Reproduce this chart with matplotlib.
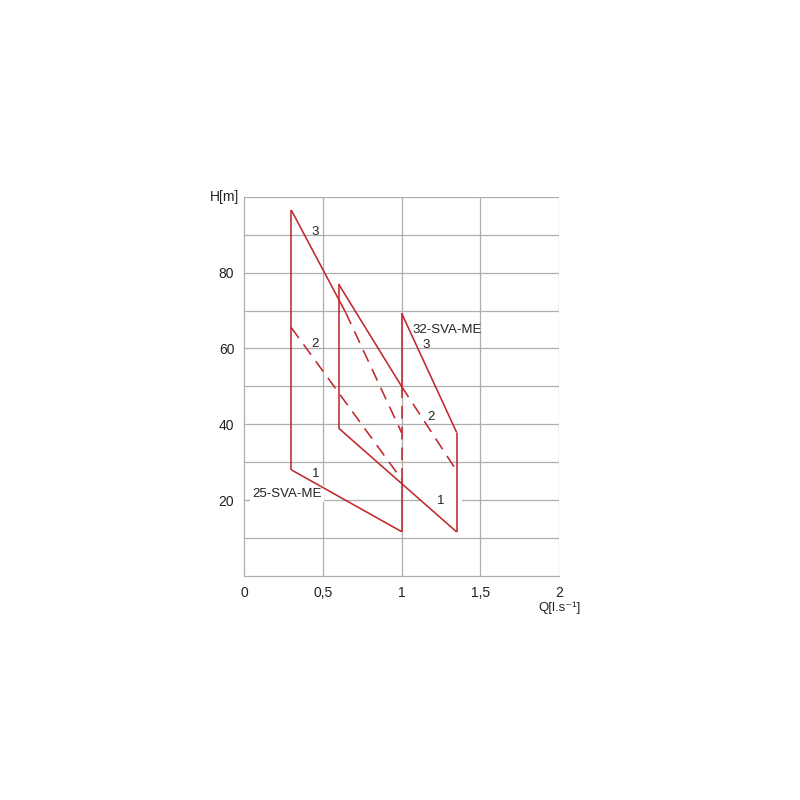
import matplotlib
matplotlib.use("Agg")
import matplotlib.pyplot as plt

plt.rcParams['font.family'] = ['Liberation Sans', 'DejaVu Sans']

RED = '#c0282d'
GRID = '#aeaeae'
TXT = '#222222'

# ---- data (Q in l/s, H in m) ----
# 25-SVA-ME
q25_left = [0.30, 0.30]; h25_left = [28.0, 96.5]
q25_c3_solid = [0.30, 0.645]; h25_c3_solid = [96.5, 69.5]
q25_c3_dash = [0.645, 1.00]; h25_c3_dash = [69.5, 37.8]
q25_c2 = [0.30, 1.00]; h25_c2 = [65.5, 25.5]
q25_c1 = [0.30, 1.00]; h25_c1 = [28.0, 11.7]
q25_right_solid = [1.00, 1.00]; h25_right_solid = [11.7, 25.0]
q_mid_dash = [1.00, 1.00]; h_mid_dash = [25.0, 50.0]
# 32-SVA-ME
q32_left = [0.60, 0.60]; h32_left = [39.0, 77.0]
q32_c2_solid = [0.60, 1.00]; h32_c2_solid = [77.0, 50.0]
q32_c2_dash = [1.00, 1.35]; h32_c2_dash = [50.0, 27.7]
q32_c1 = [0.60, 1.35]; h32_c1 = [39.0, 11.6]
q32_mid = [1.00, 1.00]; h32_mid = [50.0, 69.3]
q32_c3 = [1.00, 1.35]; h32_c3 = [69.3, 37.8]
q32_right = [1.35, 1.35]; h32_right = [11.6, 37.8]

solid_lines = [(q25_left, h25_left), (q25_c3_solid, h25_c3_solid), (q25_c1, h25_c1),
               (q25_right_solid, h25_right_solid), (q32_left, h32_left),
               (q32_c2_solid, h32_c2_solid), (q32_c1, h32_c1), (q32_mid, h32_mid),
               (q32_c3, h32_c3), (q32_right, h32_right)]
dashed_lines = [(q25_c3_dash, h25_c3_dash), (q25_c2, h25_c2), (q_mid_dash, h_mid_dash),
                (q32_c2_dash, h32_c2_dash)]

# (text, Q, H, white-box padding or None)
labels = [("3", 0.45, 90.6, None), ("2", 0.45, 61.1, None), ("1", 0.457, 26.9, None),
          ("25-SVA-ME", 0.273, 21.7, 1.5), ("32-SVA-ME", 1.289, 65.0, None),
          ("3", 1.156, 60.8, None), ("2", 1.187, 42.0, None), ("1", 1.251, 19.8, 12)]

x_ticks = [0, 0.5, 1, 1.5, 2]
x_tick_labels = ["0", "0,5", "1", "1,5", "2"]
y_ticks = [20, 40, 60, 80]
y_tick_labels = ["20", "40", "60", "80"]

fig = plt.figure(figsize=(8, 8), dpi=100)
ax = fig.add_axes([0.305, 0.28, 0.394, 0.474])
ax.set_xlim(0, 2)
ax.set_ylim(0, 100)

for h in range(10, 101, 10):
    ax.axhline(h, color=GRID, lw=0.9, zorder=1)
for q in [0.5, 1.0, 1.5, 2.0]:
    ax.axvline(q, color=GRID, lw=0.9, zorder=1)

for q, h in solid_lines:
    ax.plot(q, h, color=RED, lw=1.15, solid_capstyle='butt', zorder=3)
for q, h in dashed_lines:
    ax.plot(q, h, color=RED, lw=1.15, dashes=(8, 5), zorder=3)

for t, q, h, pad in labels:
    kw = {}
    if pad is not None:
        kw['bbox'] = dict(facecolor='white', edgecolor='none', pad=pad)
    ax.text(q, h, t, ha='center', va='center', fontsize=9.5, color=TXT, zorder=2, **kw)

for s in ['top', 'right']:
    ax.spines[s].set_visible(False)
for s in ['left', 'bottom']:
    ax.spines[s].set_color(GRID)
    ax.spines[s].set_linewidth(0.9)

ax.set_xticks(x_ticks)
ax.set_xticklabels(x_tick_labels)
ax.set_yticks(y_ticks)
ax.set_yticklabels(y_tick_labels)
ax.tick_params(length=0, pad=7, labelsize=10, colors=TXT)

ax.text(-0.015, 1.0, "H[m]", transform=ax.transAxes, ha='right', va='center',
        fontsize=10, color=TXT)
ax.text(1.0, -0.083, "Q[l.s⁻¹]", transform=ax.transAxes, ha='center', va='center',
        fontsize=9.5, color=TXT)

fig.savefig("out.png", dpi=100, facecolor='white')
